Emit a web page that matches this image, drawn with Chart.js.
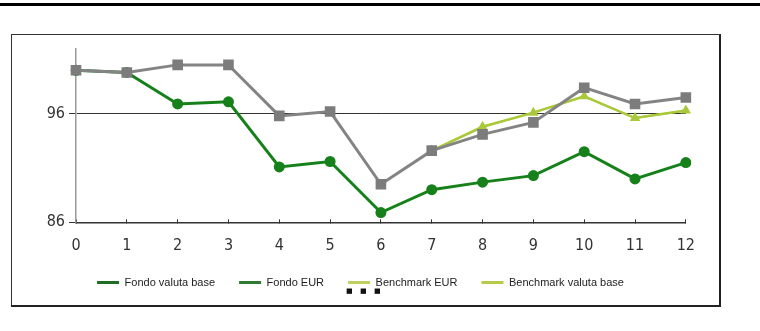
<!DOCTYPE html>
<html><head><meta charset="utf-8">
<script src="https://cdn.jsdelivr.net/npm/chart.js@4"></script>
<style>
html,body{margin:0;padding:0;background:#fff;width:760px;height:331px;overflow:hidden;position:relative}
#topline{position:absolute;left:0;top:3px;width:760px;height:3px;background:#000}
#frame{position:absolute;box-sizing:border-box;left:11px;top:34px;width:710px;height:273px;border:1px solid #333;border-right:2px solid #222;border-bottom:2px solid #222}
#wrap{position:absolute;left:9px;top:35px;width:703px;height:263px}
#dots{position:absolute;left:346px;top:287px;font:bold 7px 'DejaVu Sans';word-spacing:5px;color:#111;line-height:8px}
</style>
</head><body>
<div id="topline"></div>
<div id="frame"></div>
<div id="wrap"><canvas id="c"></canvas></div>
<div id="dots">■ ■ ■</div>
<script>
const categories = ['0','1','2','3','4','5','6','7','8','9','10','11','12'];
const fondoValutaBase = [100.0, 99.8, 96.9, 97.1, 91.1, 91.6, 86.9, 89.0, 89.7, 90.3, 92.5, 90.0, 91.5];
const fondoEur = [100.0, 99.8, 100.5, 100.5, 95.8, 96.2, 89.5, 92.6, 94.1, 95.2, 98.4, 96.9, 97.5];
const benchmarkEur = [null, null, null, null, null, null, null, 92.6, 94.8, 96.1, 97.6, 95.6, 96.3];
const benchmarkValutaBase = [null, null, null, null, null, null, null, 92.6, 94.8, 96.1, 97.6, 95.6, 96.3];
const seriesLabels = ['Fondo valuta base', 'Fondo EUR', 'Benchmark EUR', 'Benchmark valuta base'];
const yTicks = [86, 96];

const GREEN = '#16801a', GRAY = '#848484', YG = '#a9c93a';
const legendColors = ['#1d6e22', '#2f7a33', '#c0d060', '#b5cc4a'];
const tickFont = "'Liberation Sans Narrow', 'DejaVu Sans Condensed', 'Roboto Condensed', 'Open Sans Condensed', 'Noto Sans Condensed', sans-serif";

new Chart(document.getElementById('c'), {
  type: 'line',
  data: {
    labels: categories,
    datasets: [
      {label: seriesLabels[0], data: fondoValutaBase, borderColor: GREEN, backgroundColor: GREEN,
       borderWidth: 3, pointStyle: 'circle', pointRadius: 5.5, pointBorderWidth: 0, tension: 0, order: 3},
      {label: seriesLabels[1], data: fondoEur, borderColor: GRAY, backgroundColor: '#7c7c7c',
       borderWidth: 3, pointStyle: 'rect', pointRadius: 7.5, pointBorderWidth: 0, tension: 0, order: 0},
      {label: seriesLabels[2], data: benchmarkEur, borderColor: '#c4dc50', backgroundColor: '#c4dc50',
       borderWidth: 2, pointRadius: 0, tension: 0, order: 2},
      {label: seriesLabels[3], data: benchmarkValutaBase, borderColor: YG, backgroundColor: YG,
       borderWidth: 2.5, pointStyle: 'triangle', pointRadius: 6, pointBorderWidth: 0, tension: 0, order: 1}
    ]
  },
  options: {
    responsive: true, maintainAspectRatio: false, animation: false,
    layout: {padding: {left: 22, right: 22, top: 9, bottom: 0}},
    plugins: {
      tooltip: {enabled: false},
      legend: {
        position: 'bottom',
        labels: {
          boxWidth: 22, boxHeight: 3, padding: 24, color: '#222',
          font: {family: "'Liberation Sans', Arial, sans-serif", size: 11},
          generateLabels: (chart) => chart.data.datasets.map((d, i) => ({
            text: d.label, fillStyle: legendColors[i], strokeStyle: legendColors[i],
            lineWidth: 0, hidden: false, datasetIndex: i, fontColor: '#222'
          }))
        }
      }
    },
    scales: {
      x: {
        type: 'category', offset: false,
        grid: {display: true, drawOnChartArea: false, drawTicks: true, tickLength: -3, color: '#333', lineWidth: 1},
        border: {display: true, color: '#333', width: 1.5},
        ticks: {padding: 17, color: '#333', maxRotation: 0, autoSkip: false,
                font: {family: tickFont, size: 16}},
        afterFit: (s) => { s.height = 30.7; }
      },
      y: {
        min: 86, max: 102,
        afterBuildTicks: (s) => { s.ticks = yTicks.map(v => ({value: v})); },
        grid: {color: '#333', lineWidth: 1, drawTicks: true, tickLength: 7},
        border: {display: true, color: '#9a9a9a', width: 1.5},
        ticks: {padding: 4, color: '#333',
                font: {family: tickFont, size: 16}},
        afterFit: (s) => { s.width = 45; }
      }
    }
  }
});
</script>
</body></html>
